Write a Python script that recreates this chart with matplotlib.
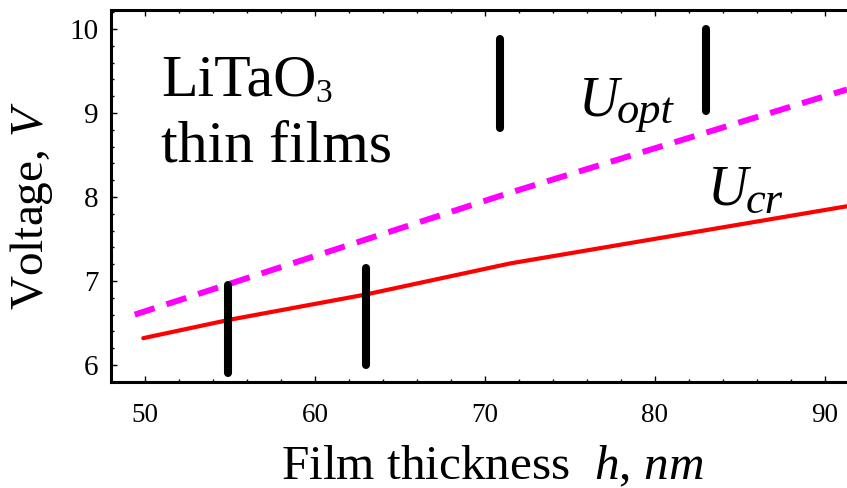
import numpy as np
import matplotlib
matplotlib.use("Agg")
import matplotlib.pyplot as plt
from matplotlib.ticker import MultipleLocator

# ── data ───────────────────────────────────────────────────────────────────
h_cr = [49.9, 55.0, 63.0, 71.5, 91.3]
u_cr = [6.32, 6.54, 6.84, 7.21, 7.89]

h_opt = [49.4, 71.6, 91.3]
u_opt = [6.60, 8.06, 9.28]

bar_h = [54.9, 63.0, 70.9, 83.0]
bar_lo = [5.90, 6.00, 8.82, 9.02]
bar_hi = [6.95, 7.15, 9.88, 10.00]

x_ticks = [50, 60, 70, 80, 90]
y_ticks = [6, 7, 8, 9, 10]

# ── style ──────────────────────────────────────────────────────────────────
plt.rcParams['font.family'] = ['Liberation Serif', 'DejaVu Serif']
plt.rcParams['mathtext.fontset'] = 'custom'
plt.rcParams['mathtext.rm'] = 'Liberation Serif'
plt.rcParams['mathtext.it'] = 'Liberation Serif:italic'
plt.rcParams['lines.scale_dashes'] = False

fig = plt.figure(figsize=(8.47, 4.88), dpi=100)
ax = fig.add_axes([0.131, 0.2172, 0.869, 0.7623])

ax.plot(h_cr, u_cr, color='#ff0000', lw=3.0, solid_capstyle='round', zorder=3)
ax.plot(h_opt, u_opt, color='#ff00ff', lw=4.3, dashes=(15, 9),
        dash_capstyle='butt', zorder=3)
for x, lo, hi in zip(bar_h, bar_lo, bar_hi):
    ax.plot([x, x], [lo, hi], color='black', lw=5.8,
            solid_capstyle='round', zorder=4)

ax.set_xlim(48, 91.3)
ax.set_ylim(5.798, 10.226)
ax.set_xticks(x_ticks)
ax.set_yticks(y_ticks)
ax.xaxis.set_minor_locator(MultipleLocator(2))
ax.yaxis.set_minor_locator(MultipleLocator(0.2))
ax.tick_params(which='both', direction='in', top=True, right=False, width=1)
ax.tick_params(which='major', length=4.5)
ax.tick_params(which='minor', length=2.5)
ax.tick_params(axis='x', pad=15, labelsize=19.5)
ax.tick_params(axis='y', pad=9, labelsize=21)
ax.spines['right'].set_visible(False)
for s in ['left', 'bottom', 'top']:
    ax.spines[s].set_linewidth(2.2)

ax.set_xlabel(r'Film thickness  $h$, $nm$', fontsize=35.5, labelpad=12)
ax.xaxis.label.set_x(0.518)
ax.set_ylabel(r'Voltage, $V$', fontsize=34, labelpad=10)
ax.yaxis.label.set_y(0.473)

# annotations
ax.text(50.94, 9.214, 'LiTaO', fontsize=43, ha='left', va='baseline')
ax.text(60.0, 9.13, '3', fontsize=24, ha='left', va='baseline')
ax.text(50.94, 8.417, 'thin films', fontsize=43, ha='left', va='baseline')

ax.text(75.5, 8.976, 'U', fontsize=40, style='italic', ha='left', va='baseline')
ax.text(77.76, 8.88, 'opt', fontsize=32, style='italic', ha='left', va='baseline')
ax.text(83.1, 7.905, 'U', fontsize=40, style='italic', ha='left', va='baseline')
ax.text(85.35, 7.81, 'cr', fontsize=32, style='italic', ha='left', va='baseline')

fig.savefig('out.png', dpi=100)
